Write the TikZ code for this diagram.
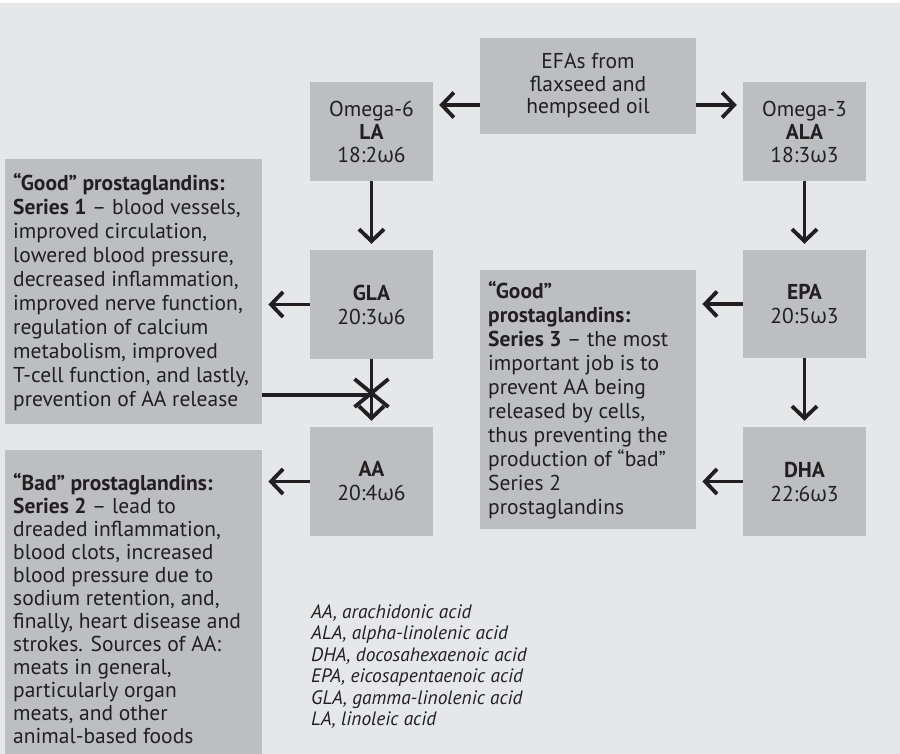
\documentclass[tikz,border=0pt]{standalone}
\usepackage{fontspec}
\setmainfont{PT Sans}
\newfontfamily\grkfont{Open Sans}
\usetikzlibrary{arrows.meta}
\definecolor{bgc}{HTML}{E6E7E8}
\definecolor{boxc}{HTML}{BCBEC0}
\definecolor{ink}{HTML}{231F20}
\newcommand{\omg}{{\grkfont ω}}
\newcommand{\mtxt}{\fontsize{21.5}{24}\selectfont}
\newcommand{\mtxtb}{\fontsize{21.5}{23}\selectfont}
\newcommand{\ltxt}{\fontsize{19.4}{21.5}\selectfont\itshape}
\tikzset{
  box/.style={fill=boxc, text=ink, inner sep=0pt, font=\mtxt, align=center},
  tbox/.style={fill=boxc, text=ink, inner ysep=0pt, inner xsep=8pt, font=\mtxt, align=flush left, anchor=north west},
  arr/.style={line width=3.8pt, draw=ink, -{Straight Barb[length=12pt,width=25pt]}, shorten >=6pt},
  plain/.style={line width=3.8pt, draw=ink},
  legend/.style={font=\ltxt, text=ink, anchor=base west, inner sep=0pt}
}
\begin{document}
\begin{tikzpicture}[x=1pt,y=-1pt]
\useasboundingbox (0,0) rectangle (900,754);
\clip (0,0) rectangle (900,754);
\fill[white] (0,0) rectangle (900,3);
\fill[bgc] (0,3) rectangle (900,754);

% top row
\node[box, font=\fontsize{21.5}{22.5}\selectfont, minimum width=216pt, minimum height=96pt] (efa) at (588,86) {EFAs from\\flaxseed and\\hempseed oil};
\node[box, font=\fontsize{21.5}{23}\selectfont, minimum width=123pt, minimum height=99pt] (om6) at (371.5,131.5) {Omega-6\\\textbf{LA}\\18:2\omg6};
\node[box, font=\fontsize{21.5}{23}\selectfont, minimum width=123pt, minimum height=99pt] (om3) at (804.5,131.5) {Omega-3\\\textbf{ALA}\\18:3\omg3};

% middle row
\node[box, minimum width=123pt, minimum height=109pt] (gla) at (371.5,304.5) {\textbf{GLA}\\20:3\omg6};
\node[box, minimum width=123pt, minimum height=108pt] (epa) at (804.5,304) {\textbf{EPA}\\20:5\omg3};

% bottom row
\node[box, minimum width=123pt, minimum height=109pt] (aa) at (371.5,481.5) {\textbf{AA}\\20:4\omg6};
\node[box, minimum width=123pt, minimum height=109pt] (dha) at (804.5,481.5) {\textbf{DHA}\\22:6\omg3};

% text boxes
\node[tbox, text width=241pt, minimum height=265pt] (s1) at (5,159) {%
\textbf{“Good” prostaglandins:}\\
\textbf{Series 1} – blood vessels,\\
improved circulation,\\
lowered blood pressure,\\
decreased inflammation,\\
improved nerve function,\\
regulation of calcium\\
metabolism, improved\\
T-cell function, and lastly,\\
prevention of AA release};

\node[tbox, font=\mtxtb, text width=241pt, minimum height=316pt] (s2) at (5,450) {%
\textbf{“Bad” prostaglandins:}\\
\textbf{Series 2} – lead to\\
dreaded inflammation,\\
blood clots, increased\\
blood pressure due to\\
sodium retention, and,\\
finally, heart disease and\\
strokes. Sources of AA:\\
meats in general,\\
particularly organ\\
meats, and other\\
animal-based foods};

\node[tbox, text width=200pt, minimum height=259pt] (s3) at (480,270) {%
\textbf{“Good”}\\
\textbf{prostaglandins:}\\
\textbf{Series 3} – the most\\
important job is to\\
prevent AA being\\
released by cells,\\
thus preventing the\\
production of “bad”\\
Series 2\\
prostaglandins};

% legend
\node[legend] (l1) at (311,618) {AA, arachidonic acid};
\node[legend] (l2) at (311,639.5) {ALA, alpha-linolenic acid};
\node[legend] (l3) at (311,661) {DHA, docosahexaenoic acid};
\node[legend] (l4) at (311,682.5) {EPA, eicosapentaenoic acid};
\node[legend] (l5) at (311,704) {GLA, gamma-linolenic acid};
\node[legend] (l6) at (311,725.5) {LA, linoleic acid};

% connectors
\draw[arr] (efa.west |- 0,105) -- (om6.east |- 0,105);
\draw[arr] (efa.east |- 0,105) -- (om3.west |- 0,105);
\draw[arr] (om6.south) -- (gla.north);
\draw[arr] (om3.south) -- (epa.north);
\draw[arr] (gla.west) -- (s1.east |- gla.west);
\draw[arr] (epa.west) -- (s3.east |- epa.west);
\draw[arr] (epa.south) -- (dha.north);
\draw[arr] (dha.west) -- (s3.east |- dha.west);
\draw[arr] (aa.west) -- (s2.east |- aa.west);
\draw[arr] (gla.south) -- (aa.north);
% blocked pathway
\coordinate (xc) at (gla.south |- 0,393);
\draw[plain] (s1.east |- 0,395) -- (gla.south |- 0,395);
\draw[plain] ([shift={(-17,-14)}]xc) -- ([shift={(17,14)}]xc);
\draw[plain] ([shift={(17,-14)}]xc) -- ([shift={(-17,14)}]xc);
\end{tikzpicture}
\end{document}
